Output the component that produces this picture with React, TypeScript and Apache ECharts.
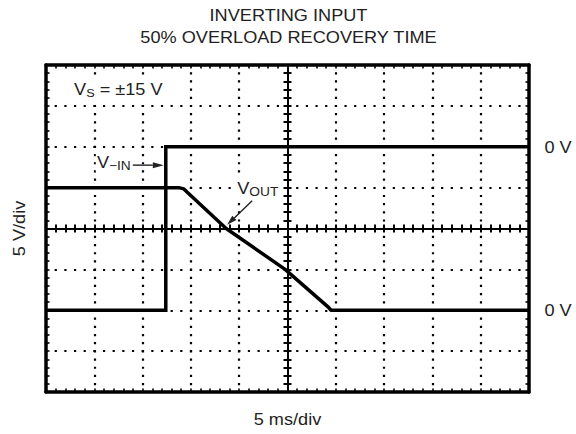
import React, { useEffect, useRef } from "react";
import * as echarts from "echarts";

// Oscilloscope screen in divisions (10 x 8), centred at 0
const X_MIN = -5;
const X_MAX = 5;
const Y_MIN = -4;
const Y_MAX = 4;

// V-IN trace (divisions)
const vInX = [-5, -2.52, -2.52, 5];
const vInY = [-2, -2, 2, 2];

// VOUT trace (divisions)
const vOutX = [-5, -2.25, -2.15, -2.07, -1.27, -0.05, 0.85, 0.9, 5];
const vOutY = [1, 1, 0.97, 0.88, 0, -1, -1.93, -2, -2];

const titleLines = ["INVERTING INPUT", "50% OVERLOAD RECOVERY TIME"];
const xLabel = "5 ms/div";
const yLabel = "5 V/div";
const refLabel = "0 V";
const refLevels = [2, -2];

const FONT = '"Liberation Sans", Arial, Helvetica, sans-serif';
const INK = "#000";
const TXT = "#222";
const SX = 1.1;

function axisBase(min: number, max: number) {
  return {
    type: "value" as const,
    min,
    max,
    interval: 1,
    axisLabel: { show: false },
    splitLine: { show: false },
  };
}

function borderAxis(min: number, max: number, position: string, dash: number[] | null) {
  return {
    ...axisBase(min, max),
    position,
    axisLine: { show: true, onZero: false, lineStyle: { color: INK, width: 3.5 } },
    axisTick: { show: true, inside: true, length: 3.5, lineStyle: { color: INK, width: 1.6 } },
    minorTick: { show: true, splitNumber: 5, length: 3.5, lineStyle: { color: INK, width: 1.6 } },
    splitLine: dash
      ? { show: true, lineStyle: { color: INK, width: 2.2, type: dash, dashOffset: 1.1 } }
      : { show: false },
  };
}

function centerAxis(min: number, max: number, position: string, inside: boolean) {
  return {
    ...axisBase(min, max),
    position,
    axisLine: { show: true, onZero: true, onZeroAxisIndex: 0, lineStyle: { color: INK, width: 2 } },
    axisTick: { show: true, inside, length: 4, lineStyle: { color: INK, width: 2 } },
    minorTick: { show: true, splitNumber: 5, length: 4, lineStyle: { color: INK, width: 2 } },
  };
}

function zip(xs: number[], ys: number[]) {
  return xs.map((x, i) => [x, ys[i]]);
}

function arrow(tail: number[], tip: number[], headLen: number, headHalf: number) {
  const dx = tip[0] - tail[0];
  const dy = tip[1] - tail[1];
  const L = Math.hypot(dx, dy);
  const ux = dx / L;
  const uy = dy / L;
  const bx = tip[0] - ux * headLen;
  const by = tip[1] - uy * headLen;
  return [
    {
      type: "line",
      z: 100,
      shape: { x1: tail[0], y1: tail[1], x2: bx, y2: by },
      style: { stroke: "#222", lineWidth: 1.4 },
    },
    {
      type: "polygon",
      z: 100,
      shape: {
        points: [
          [tip[0], tip[1]],
          [bx - uy * headHalf, by + ux * headHalf],
          [bx + uy * headHalf, by - ux * headHalf],
        ],
      },
      style: { fill: "#222" },
    },
  ];
}

function txt(text: string, x: number, y: number, extra: any = {}, style: any = {}) {
  return {
    type: "text",
    z: 100,
    x,
    y,
    scaleX: SX,
    ...extra,
    style: {
      text,
      fontFamily: FONT,
      fontSize: 16.5,
      fill: TXT,
      align: "center",
      verticalAlign: "middle",
      ...style,
    },
  };
}

function subLabel(main: string, sub: string, tail: string, x: number, y: number, subSize: number, subLH: number) {
  return {
    type: "text",
    z: 100,
    x,
    y,
    scaleX: SX,
    style: {
      text: `{m|${main}}{s|${sub}}` + (tail ? `{m|${tail}}` : ""),
      fontFamily: FONT,
      fill: TXT,
      align: "left",
      verticalAlign: "middle",
      backgroundColor: "#fff",
      padding: [0, 1, 0, 1],
      rich: {
        m: { fontSize: 16.5, lineHeight: 20, fontFamily: FONT, fill: TXT },
        s: { fontSize: subSize, lineHeight: subLH, verticalAlign: "bottom", fontFamily: FONT, fill: TXT },
      },
    },
  };
}

export default function App() {
  const ref = useRef<HTMLDivElement>(null);

  useEffect(() => {
    const chart = echarts.init(ref.current!, null, { renderer: "svg" });
    chart.setOption({
      animation: false,
      backgroundColor: "#fff",
      grid: { left: 46, top: 65, width: 483, height: 327, containLabel: false },
      xAxis: [
        borderAxis(X_MIN, X_MAX, "bottom", [2.2, 5.98]),
        borderAxis(X_MIN, X_MAX, "top", null),
        centerAxis(X_MIN, X_MAX, "bottom", true),
        centerAxis(X_MIN, X_MAX, "bottom", false),
      ],
      yAxis: [
        borderAxis(Y_MIN, Y_MAX, "left", [2.2, 7.46]),
        borderAxis(Y_MIN, Y_MAX, "right", null),
        centerAxis(Y_MIN, Y_MAX, "left", true),
        centerAxis(Y_MIN, Y_MAX, "left", false),
      ],
      series: [
        {
          name: "V-IN",
          type: "line",
          data: zip(vInX, vInY),
          symbol: "none",
          clip: false,
          z: 10,
          lineStyle: { color: INK, width: 3.5, join: "miter" },
        },
        {
          name: "VOUT",
          type: "line",
          data: zip(vOutX, vOutY),
          symbol: "none",
          clip: false,
          z: 10,
          lineStyle: { color: INK, width: 3.5 },
        },
      ],
    });

    const p = (x: number, y: number) =>
      chart.convertToPixel({ seriesIndex: 0 }, [x, y]) as number[];

    const corner = p(X_MIN, Y_MAX);
    const right = p(X_MAX, 0);
    const bottom = p(0, Y_MIN);
    const center = p(0, 0);

    const vinTip = p(-2.52, 1.55);
    vinTip[0] -= 2;
    const vinTail = [vinTip[0] - 31, vinTip[1]];

    const voutTip = p(-1.25, 0.09);
    const voutTail = [voutTip[0] + 25, voutTip[1] - 24];

    const graphic: any[] = [
      txt(titleLines[0], center[0] + 1, 15),
      txt(titleLines[1], center[0] + 1, 37.3),
      txt(xLabel, center[0], bottom[1] + 27),
      txt(yLabel, 19, center[1], { rotation: Math.PI / 2 }),
      ...refLevels.map((lv) => txt(refLabel, right[0] + 29, p(X_MAX, lv)[1] + 0.5)),
      subLabel("V", "S", " = ±15 V", corner[0] + 27, corner[1] + 24, 11.5, 12.5),
      subLabel("V", "−IN", "", vinTip[0] - 68, vinTip[1] - 3, 12.5, 10),
      ...arrow(vinTail, vinTip, 11, 3),
      subLabel("V", "OUT", "", voutTip[0] + 9, voutTip[1] - 37, 12.5, 12),
      ...arrow(voutTail, voutTip, 10, 3),
    ];
    chart.setOption({ graphic });

    return () => chart.dispose();
  }, []);

  return (
    <div
      ref={ref}
      style={{ position: "fixed", left: 0, top: 0, width: 576, height: 434 }}
    />
  );
}
